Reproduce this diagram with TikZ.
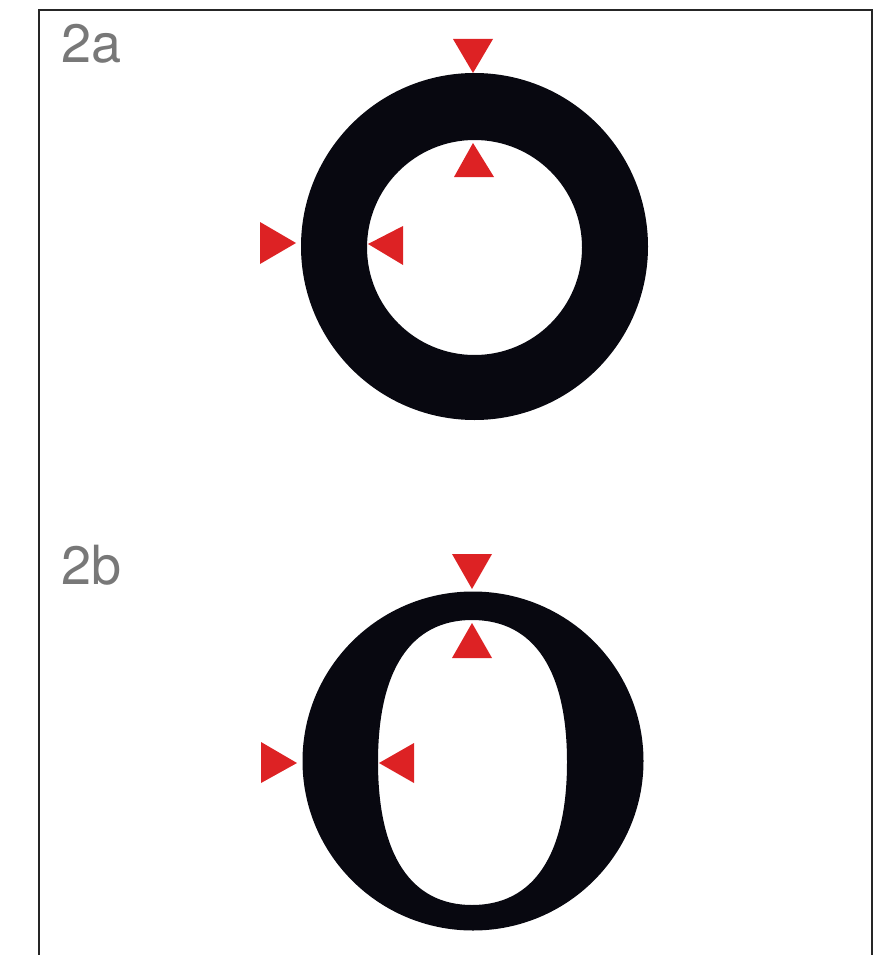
\documentclass[tikz,border=0pt]{standalone}
\usepackage{fontspec}
\setmainfont{TeX Gyre Heros}
\definecolor{markred}{RGB}{221,34,36}
\definecolor{labelgray}{RGB}{120,120,120}
\definecolor{inkblack}{RGB}{8,8,16}
\tikzset{
  marker/.style={fill=markred},
  glyph/.style={fill=inkblack,even odd rule},
  frameline/.style={draw=black!85,line width=1.5pt},
  figlabel/.style={anchor=base west,inner sep=0pt,text=labelgray,font=\fontsize{54}{54}\selectfont}
}
\begin{document}
\begin{tikzpicture}[x=1pt,y=-1pt]
\useasboundingbox (0,0) rectangle (877,955);
% frame (open at the bottom)
\draw[frameline] (39,955) -- (39,10) -- (872,10) -- (872,955);

% labels
\node[figlabel] (la) at (61,63) {2a};
\node[figlabel] (lb) at (61,584) {2b};

% 2a: monoline ring
\fill[glyph] (474.5,246.5) circle[radius=173.5] (474.5,247.5) circle[radius=107.5];

% 2a markers
\fill[marker] (453,39) -- (493,39) -- (473,73) -- cycle;
\fill[marker] (473,143) -- (454,177) -- (494,177) -- cycle;
\fill[marker] (260,222) -- (260,264) -- (296,243) -- cycle;
\fill[marker] (368,244) -- (403,226) -- (403,265) -- cycle;

% 2b: modulated O
\fill[glyph] (473,761) ellipse[x radius=170.5,y radius=169.5]
  (472,620) .. controls (472+0.65*95,620) and (567,762-0.65*142) .. (567,762)
            .. controls (567,762+0.65*143) and (472+0.65*95,905) .. (472,905)
            .. controls (472-0.65*94,905) and (378,762+0.65*143) .. (378,762)
            .. controls (378,762-0.65*142) and (472-0.65*94,620) .. (472,620) -- cycle;

% 2b markers
\fill[marker] (452,554) -- (492,554) -- (472,589) -- cycle;
\fill[marker] (472,623) -- (452,658) -- (492,658) -- cycle;
\fill[marker] (261,742) -- (261,783) -- (297,763) -- cycle;
\fill[marker] (379,763) -- (414,743) -- (414,783) -- cycle;
\end{tikzpicture}
\end{document}
